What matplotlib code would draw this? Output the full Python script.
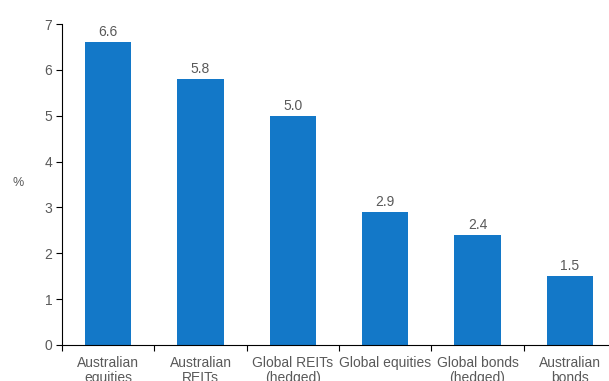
import matplotlib
matplotlib.use("Agg")
import matplotlib.pyplot as plt
import numpy as np

# chart data
categories = ["Australian\nequities", "Australian\nREITs", "Global REITs\n(hedged)",
              "Global equities", "Global bonds\n(hedged)", "Australian\nbonds"]
values = [6.6, 5.8, 5.0, 2.9, 2.4, 1.5]
value_labels = ["6.6", "5.8", "5.0", "2.9", "2.4", "1.5"]
y_ticks = [0, 1, 2, 3, 4, 5, 6, 7]

plt.rcParams['font.family'] = ['Liberation Sans', 'DejaVu Sans']
text_color = '#595959'
bar_color = '#1378C8'

fig = plt.figure(figsize=(6.09, 3.81), dpi=100)
# axes runs slightly past the right edge, like the cropped original
ax = fig.add_axes([62 / 609, 36 / 381, (616 - 62) / 609, (345 - 24) / 381])

x = np.arange(len(categories))
ax.bar(x, values, width=0.5, color=bar_color, zorder=2)

for xi, v, lab in zip(x, values, value_labels):
    ax.text(xi, v + 0.07, lab, ha='center', va='bottom', fontsize=10, color=text_color)

ax.set_xlim(-0.5, len(categories) - 0.5)
ax.set_ylim(0, 7)
ax.set_yticks(y_ticks)
ax.set_yticklabels([str(t) for t in y_ticks])

# category labels sit between boundary ticks
ax.set_xticks(np.arange(len(categories) + 1) - 0.5)
ax.set_xticklabels([])
ax.set_xticks(x, minor=True)
ax.set_xticklabels(categories, minor=True, fontsize=10, color=text_color, linespacing=1.1)
ax.tick_params(axis='x', which='minor', length=0, pad=8)
ax.tick_params(axis='x', which='major', length=4, direction='out', color='black', width=0.8)
ax.tick_params(axis='y', length=4, direction='out', labelsize=10, labelcolor=text_color, pad=3)

for side in ['top', 'right']:
    ax.spines[side].set_visible(False)
ax.spines['left'].set_color('black')
ax.spines['bottom'].set_color('black')

fig.text(18 / 609, 1 - 183 / 381, "%", ha='center', va='center', fontsize=9, color=text_color)

fig.savefig("out.png", dpi=100)
